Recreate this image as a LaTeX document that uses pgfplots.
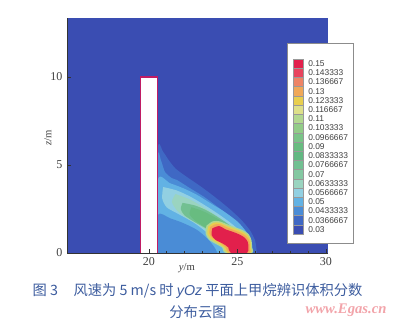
\documentclass[border=0pt]{standalone}
\usepackage{fontspec}
\setmainfont{Liberation Serif}
\newfontfamily\legendfont{Liberation Sans}
\newfontfamily\cjk{Noto Sans CJK SC}
\usepackage{pgfplots}
\pgfplotsset{compat=1.18}

% contour level colours (volume fraction of methane)
\definecolor{c150}{HTML}{E2204C}
\definecolor{c143}{HTML}{E8445E}
\definecolor{c137}{HTML}{EE8466}
\definecolor{c130}{HTML}{F0A858}
\definecolor{c123}{HTML}{E8CE4E}
\definecolor{c117}{HTML}{DEE08A}
\definecolor{c110}{HTML}{B2D890}
\definecolor{c103}{HTML}{92CC88}
\definecolor{c097}{HTML}{7AC488}
\definecolor{c090}{HTML}{68BC80}
\definecolor{c083}{HTML}{62B882}
\definecolor{c077}{HTML}{72C092}
\definecolor{c070}{HTML}{84C8A2}
\definecolor{c063}{HTML}{9AD4C0}
\definecolor{c057}{HTML}{92D0E2}
\definecolor{c050}{HTML}{62B2E4}
\definecolor{c043}{HTML}{4A8CD6}
\definecolor{c037}{HTML}{3F68C4}
\definecolor{c030}{HTML}{3A4DB2}
\definecolor{wallcol}{HTML}{C01C64}
\definecolor{capblue}{HTML}{3C5C9E}
\definecolor{markpink}{HTML}{F2A4AA}

\begin{document}
\begin{tikzpicture}[x=1pt,y=1pt]
\begin{axis}[
  at={(50.25pt,57pt)}, anchor=south west,
  scale only axis, width=195.5pt, height=176.25pt,
  xmin=15.37, xmax=30.1, ymin=0, ymax=13.35,
  axis x line*=bottom, axis y line*=left,
  axis line style={black!80, line width=0.6pt, -},
  xtick={20,25,30}, ytick={0,5,10},
  minor x tick num=4,
  tick align=inside, major tick length=3pt, minor tick length=1.5pt,
  tick style={black!80, line width=0.5pt},
  tick label style={font=\fontsize{9}{9}\selectfont, text=black!75},
  /pgf/number format/assume math mode=true,
  xlabel={\textit{y}/m}, ylabel={\textit{z}/m},
  xlabel style={at={(axis description cs:0.46,0)}, anchor=center, yshift=-11.5pt,
    font=\fontsize{8}{9}\selectfont, text=black!75},
  ylabel style={at={(axis description cs:0,0.49)}, anchor=center, yshift=14.25pt,
    font=\fontsize{8}{9}\selectfont, text=black!75},
  axis background/.style={fill=c030},
  axis on top,
  level/.style={draw=none, smooth, tension=0.45},
]
% 0.0367
\addplot[level, fill=c037] coordinates {(20.5,0) (20.5,5.9) (20.8,5.75) (21.1,5.3) (21.5,4.8) (22.1,4.35) (22.9,3.8) (23.7,3.2) (24.5,2.55) (25.2,1.9) (25.7,1.3) (26.0,0.7) (26.1,0)};
% 0.0433
\addplot[level, fill=c043] coordinates {(20.5,0) (20.5,5.47) (20.7,5.2) (20.91,4.6) (21.3,4.25) (21.58,4.15) (22.34,3.67) (23.10,3.2) (23.87,2.63) (24.63,2.06) (25.2,1.5) (25.58,1.12) (25.77,0.64) (25.87,0.17) (25.88,0)};
% 0.05
\addplot[level, fill=c050] coordinates {(20.5,0) (20.5,4.15) (21.2,3.96) (21.96,3.67) (22.72,3.3) (23.49,2.82) (24.25,2.35) (25.01,1.78) (25.49,1.21) (25.68,0.74) (25.73,0.17) (25.74,0)};
% lower pocket back to 0.0433
\addplot[level, fill=c043] coordinates {(20.5,0) (20.5,2.16) (21.2,1.97) (21.96,1.69) (22.72,1.31) (23.29,0.83) (23.68,0.36) (23.87,0)};
% 0.0567
\addplot[level, fill=c057] coordinates {(20.8,3.75) (21.58,3.55) (22.34,3.2) (23.1,2.75) (23.87,2.25) (24.63,1.7) (25.2,1.2) (25.5,0.74) (25.6,0.3) (25.6,0) (24.4,0) (24.0,0.55) (23.3,1.15) (22.5,1.75) (21.6,2.25) (21.0,2.6) (20.75,3.1) (20.8,3.75)};
% 0.0633
\addplot[level, fill=c063] coordinates {(21.5,3.35) (22.3,3.05) (23.0,2.65) (23.7,2.2) (24.4,1.7) (25.0,1.25) (25.4,0.8) (25.5,0.3) (25.5,0) (24.6,0) (24.2,0.5) (23.5,1.1) (22.8,1.6) (22.1,2.0) (21.6,2.4) (21.3,2.9) (21.5,3.35)};
% 0.0767
\addplot[level, fill=c077] coordinates {(21.9,2.85) (22.6,2.7) (23.2,2.45) (23.8,2.1) (24.4,1.7) (24.9,1.3) (25.2,0.9) (24.6,0.5) (24.0,0.9) (23.3,1.35) (22.6,1.75) (22.0,2.15) (21.8,2.5) (21.9,2.85)};
% 0.09
\addplot[level, fill=c090] coordinates {(22.4,2.6) (23.0,2.4) (23.6,2.1) (24.2,1.75) (24.7,1.4) (24.5,1.0) (23.9,1.1) (23.2,1.45) (22.6,1.85) (22.3,2.2) (22.4,2.6)};
% 0.11
\addplot[level, fill=c110] coordinates {(23.25,1.55) (23.6,1.8) (24.0,1.8) (24.5,1.6) (24.9,1.45) (25.3,1.3) (25.65,1.05) (25.8,0.7) (25.83,0.3) (25.8,0) (24.35,0) (24.15,0.3) (23.8,0.5) (23.4,0.75) (23.2,1.1) (23.25,1.55)};
% 0.1233
\addplot[level, fill=c123] coordinates {(23.35,1.5) (23.65,1.72) (24.0,1.72) (24.45,1.52) (24.85,1.38) (25.25,1.22) (25.58,1.0) (25.74,0.68) (25.76,0.3) (25.72,0) (24.45,0) (24.25,0.3) (23.9,0.55) (23.5,0.8) (23.3,1.1) (23.35,1.5)};
% 0.13
\addplot[level, fill=c130] coordinates {(23.45,1.47) (23.75,1.63) (24.05,1.62) (24.42,1.45) (24.8,1.3) (25.18,1.15) (25.5,0.95) (25.68,0.66) (25.7,0.3) (25.66,0) (24.55,0) (24.35,0.3) (24.0,0.6) (23.6,0.85) (23.42,1.1) (23.45,1.47)};
% 0.15
\addplot[level, fill=c150] coordinates {(23.58,1.40) (23.96,1.53) (24.34,1.34) (24.72,1.21) (25.05,1.08) (25.39,0.89) (25.58,0.64) (25.62,0.32) (25.54,0) (24.63,0) (24.48,0.32) (24.15,0.55) (23.77,0.74) (23.54,1.02) (23.58,1.40)};
% building
\addplot[fill=white, draw=wallcol, line width=0.8pt] coordinates {(19.5,0) (19.5,10) (20.5,10) (20.5,0)};
\end{axis}

% level legend
\fill[white] (215.25,64.5) rectangle (264.75,214.5);
\draw[black!45, line width=0.5pt] (215.25,64.5) rectangle (264.75,214.5);
\foreach \c/\l [count=\i from 0] in {c150/0.15, c143/0.143333, c137/0.136667, c130/0.13,
    c123/0.123333, c117/0.116667, c110/0.11, c103/0.103333, c097/0.0966667, c090/0.09,
    c083/0.0833333, c077/0.0766667, c070/0.07, c063/0.0633333, c057/0.0566667,
    c050/0.05, c043/0.0433333, c037/0.0366667, c030/0.03} {
  \pgfmathsetmacro\ytop{202.5-\i*6.908}
  \pgfmathsetmacro\ybot{\ytop-6.908}
  \pgfmathsetmacro\ymid{\ytop-3.454}
  \fill[\c] (219.75,\ytop) rectangle (227.25,\ybot);
  \draw[black!40, line width=0.25pt] (219.75,\ytop) rectangle (227.25,\ybot);
  \node[anchor=west, inner sep=0pt, text=black!75,
        font=\legendfont\fontsize{6.3}{6.5}\selectfont] at (231,\ymid) {\l};
}

% caption
\node[font=\cjk\fontsize{10.7}{11}\selectfont, text=capblue] at (148.1,28.5)
  {图 3\hspace{1.1em}风速为 5 m/s 时 {\legendfont\itshape yOz} 平面上甲烷辨识体积分数};
\node[font=\cjk\fontsize{10.7}{11}\selectfont, text=capblue] at (148.5,12.75) {分布云图};
\node[font=\bfseries\itshape\fontsize{11}{12}\selectfont, text=markpink] at (259.5,14) {www.Egas.cn};

\pgfresetboundingbox
\path[use as bounding box] (0,0) rectangle (300,246.75);
\end{tikzpicture}
\end{document}
